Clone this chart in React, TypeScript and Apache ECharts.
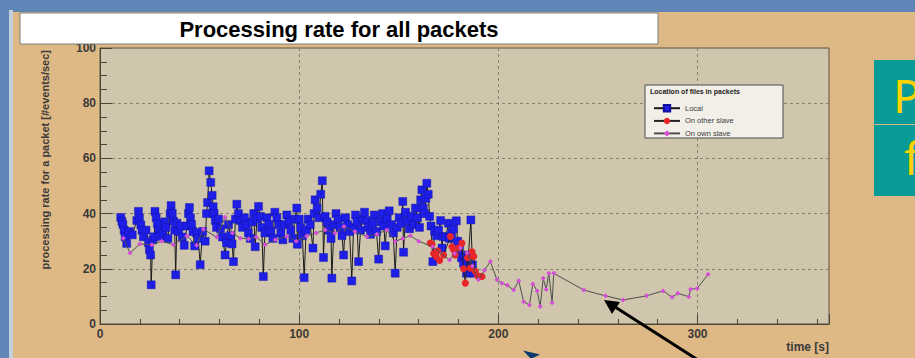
import React, { useEffect, useRef } from 'react';
import * as echarts from 'echarts';

// ---- data (time [s], rate [#events/sec]) ----
const localData: number[][] = [
  [10.4,38.6],[11.0,37.2],[11.5,36.1],[12.1,34.0],[12.6,31.6],[13.4,29.2],[14.8,33.5],[16.2,32.3],[18.5,37.5],[19.3,40.8],
  [19.8,38.3],[20.5,35.9],[21.1,34.0],[21.8,31.6],[23.1,34.0],[24.3,29.5],[24.8,26.9],[25.4,25.0],[25.7,14.2],[26.5,30.5],
  [27.3,31.6],[27.6,40.8],[28.2,38.5],[28.8,36.3],[29.5,34.0],[30.3,31.8],[31.5,33.0],[32.5,37.0],[33.0,35.0],[34.1,31.0],
  [35.2,40.0],[35.7,42.9],[36.3,40.0],[36.9,37.2],[37.5,34.0],[38.0,17.8],[38.6,36.5],[39.5,33.5],[40.5,35.5],[41.3,31.5],
  [42.3,28.5],[43.7,35.5],[44.4,40.0],[44.9,42.2],[45.4,38.5],[46.0,36.0],[46.7,33.5],[47.5,28.3],[48.5,33.0],[49.3,31.0],
  [50.3,21.5],[51.5,33.5],[52.8,30.0],[53.5,40.0],[54.0,44.0],[54.8,55.5],[55.6,51.3],[56.3,46.6],[56.8,42.5],[57.3,40.0],
  [57.9,37.5],[58.5,35.0],[59.5,38.0],[60.5,34.5],[61.5,31.5],[62.8,25.0],[63.5,29.4],[64.5,36.0],[65.5,32.0],[66.3,29.0],
  [67.0,22.6],[68.0,38.0],[68.7,43.4],[69.5,40.0],[70.5,37.5],[71.5,35.0],[72.5,38.5],[73.5,36.0],[74.5,33.0],[75.5,31.0],
  [76.5,37.0],[77.2,40.0],[77.9,28.0],[78.8,38.0],[79.6,42.6],[80.5,39.0],[81.2,35.0],[82.0,17.2],[82.8,33.0],[83.8,38.5],
  [84.8,36.0],[85.8,33.5],[86.8,31.0],[87.8,40.5],[88.8,38.5],[89.8,36.0],[90.8,33.0],[91.8,30.5],[92.8,36.0],[93.8,39.5],
  [94.8,37.0],[95.8,34.0],[96.8,31.0],[97.8,38.0],[98.8,42.0],[99.1,28.9],[100.0,38.0],[100.8,35.0],[101.6,32.0],[102.5,16.8],
  [103.5,34.0],[104.5,38.0],[105.5,36.0],[106.9,27.5],[107.5,40.0],[108.0,45.0],[109.0,42.0],[110.0,38.5],[110.8,47.0],[111.6,51.9],
  [112.2,24.1],[113.0,39.0],[114.0,37.0],[115.0,34.0],[116.0,31.0],[116.4,16.6],[117.5,36.0],[118.5,40.0],[119.5,38.0],[120.5,35.0],
  [121.5,32.0],[122.3,25.0],[123.3,38.5],[124.3,36.0],[125.3,33.5],[126.4,15.6],[127.3,35.0],[128.3,39.5],[129.0,37.0],[129.8,22.6],
  [130.8,34.0],[131.8,38.0],[132.8,40.5],[133.8,37.5],[134.8,35.0],[135.8,32.5],[136.8,36.5],[137.8,39.5],[138.8,33.5],[139.9,23.5],
  [140.9,37.0],[141.9,40.0],[142.5,35.5],[143.2,28.3],[144.2,38.0],[145.2,41.0],[146.2,36.0],[147.2,33.0],[148.2,18.4],[149.2,35.0],
  [150.2,38.5],[151.2,36.5],[152.0,44.4],[152.4,26.0],[153.4,40.5],[154.4,37.5],[155.4,34.5],[156.4,39.0],[157.4,36.0],[158.4,42.0],
  [159.4,38.5],[160.4,35.0],[161.0,45.0],[161.6,48.6],[162.3,42.0],[163.0,40.0],[163.6,45.5],[164.1,51.0],[164.8,47.0],[165.5,39.0],
  [166.2,35.5],[167.1,22.6],[168.0,33.5],[169.0,32.0],[170.0,34.0],[171.0,37.5],[171.7,27.5],[172.2,31.7],[173.5,31.5],[175.0,36.5],
  [175.5,31.0],[176.5,33.0],[177.5,34.5],[178.9,37.4],[179.5,30.0],[180.5,27.0],[181.5,24.0],[182.5,22.0],[183.4,24.4],[184.0,18.4],
  [185.0,25.0],[186.2,37.7],[187.0,21.4],[187.6,18.4]
];

const otherSlaveData: number[][] = [
  [165.8,29.3],[166.7,28.9],[167.5,25.5],[168.8,24.4],[169.5,26.5],[170.5,23.0],[172.5,25.0],[175.9,31.7],[176.7,28.0],[177.5,26.9],
  [178.3,25.0],[180.0,27.5],[181.7,29.3],[182.5,20.0],[183.4,14.8],[184.5,24.0],[185.9,20.2],[186.8,26.2],[187.6,24.5],[188.4,19.0],
  [189.5,17.5],[190.9,17.2],[191.8,17.2]
];

const ownSlaveData: number[][] = [
  [11.7,31.1],[15.1,25.7],[20.0,29.0],[26.0,28.7],[31.0,30.0],[36.8,28.7],[43.6,31.9],[48.5,28.5],[51.9,34.3],[58.6,31.5],
  [62.8,38.7],[66.5,33.0],[70.4,31.1],[74.6,30.8],[78.5,31.5],[82.9,28.7],[88.0,30.5],[93.8,31.7],[98.5,30.0],[103.8,31.9],
  [108.5,33.0],[113.0,34.1],[118.0,33.0],[122.5,35.3],[128.0,33.5],[134.0,31.7],[139.0,32.5],[144.0,34.1],[148.2,29.9],[152.0,31.0],
  [155.8,32.0],[160.0,30.0],[167.0,28.0],[175.5,23.2],[178.0,25.5],[181.0,27.5],[184.3,25.7],[187.0,21.0],[190.0,16.0],[193.0,19.5],
  [196.0,22.6],[199.3,16.0],[201.8,14.8],[204.5,14.0],[207.7,12.3],[210.2,15.7],[212.7,8.1],[215.6,6.9],[217.3,14.5],[219.5,12.0],
  [221.0,6.3],[222.5,16.6],[224.0,12.5],[225.3,18.4],[227.0,7.7],[227.8,18.4],[242.9,12.3],[253.8,10.2],[262.6,8.7],[274.4,10.2],
  [282.7,12.0],[287.2,9.7],[290.1,11.1],[295.6,9.9],[296.5,12.6],[299.8,12.9],[305.3,18.0]
];

const seriesNames = ['Local', 'On other slave', 'On own slave'];
const titleText = 'Processing rate for all packets';
const legendTitle = 'Location of files in packets';
const yTitle = 'processing rate for a packet [#events/sec]';
const xTitle = 'time [s]';
const X_MAX = 366;

const FONT = '"Liberation Sans", Arial, sans-serif';

export default function App() {
  const ref = useRef<HTMLDivElement>(null);
  useEffect(() => {
    if (!ref.current) return;
    const chart = echarts.init(ref.current, undefined, { renderer: 'svg' });
    const axisColor = '#4a4436';
    const labelStyle = { fontFamily: FONT, fontWeight: 'bold' as const, fontSize: 12, color: '#3a3a3a' };
    chart.setOption({
      animation: false,
      backgroundColor: '#5f86b6',
      grid: {
        left: 100, right: 86, top: 48, bottom: 34,
        show: true, backgroundColor: '#cfc6ad', borderColor: '#5a5343', borderWidth: 1
      },
      xAxis: [
        {
          type: 'value', min: 0, max: X_MAX, interval: 100,
          axisLine: { show: true, onZero: false, lineStyle: { color: axisColor } },
          axisTick: { inside: true, length: 10, lineStyle: { color: axisColor } },
          axisLabel: { ...labelStyle, margin: 4, formatter: (v: number) => (v % 100 === 0 ? String(v) : '') },
          splitLine: { show: true, showMinLine: false, showMaxLine: false, lineStyle: { type: [3, 3], color: '#8a816c' } }
        },
        {
          type: 'value', min: 0, max: X_MAX, interval: 20, position: 'bottom',
          axisLine: { show: false },
          axisTick: { inside: true, length: 5, lineStyle: { color: axisColor } },
          axisLabel: { show: false },
          splitLine: { show: false }
        }
      ],
      yAxis: {
        type: 'value', min: 0, max: 100, interval: 20,
        axisLine: { show: true, onZero: false, lineStyle: { color: axisColor } },
        axisTick: { inside: true, length: 12, lineStyle: { color: axisColor } },
        minorTick: { show: true, splitNumber: 4, length: 7, lineStyle: { color: axisColor } },
        axisLabel: { ...labelStyle, margin: 4 },
        splitLine: { show: true, showMinLine: false, showMaxLine: false, lineStyle: { type: [3, 3], color: '#8a816c' } }
      },
      legend: {
        data: seriesNames,
        orient: 'vertical',
        left: 648, top: 99,
        itemWidth: 26, itemHeight: 8, itemGap: 4.5,
        textStyle: { fontFamily: FONT, fontSize: 7.5, color: '#3a3a3a' },
        z: 6
      },
      series: [
        {
          name: seriesNames[0], type: 'line', xAxisIndex: 0, data: localData,
          symbol: 'rect', symbolSize: 8,
          itemStyle: { color: '#1e1ee6', borderColor: '#10109a', borderWidth: 0.4 },
          lineStyle: { color: '#1a1a1a', width: 1 }, z: 2
        },
        {
          name: seriesNames[1], type: 'line', xAxisIndex: 0, data: otherSlaveData,
          symbol: 'circle', symbolSize: 7,
          itemStyle: { color: '#e8262a' },
          lineStyle: { color: '#222', width: 1 }, z: 3
        },
        {
          name: seriesNames[2], type: 'line', xAxisIndex: 0, data: ownSlaveData,
          symbol: 'diamond', symbolSize: 5,
          itemStyle: { color: '#d54ed6' },
          lineStyle: { color: '#4f4f4f', width: 1 }, z: 4
        }
      ],
      graphic: [
        // slide panel
        { type: 'rect', z: -10, shape: { x: 9, y: 10, width: 4, height: 348 }, style: { fill: '#c4d0dc' } },
        { type: 'rect', z: -10, shape: { x: 13, y: 12, width: 902, height: 346 }, style: { fill: '#dfb985' } },
        // title box
        { type: 'rect', z: 1, shape: { x: 20, y: 13, width: 638, height: 31 }, style: { fill: '#ffffff', stroke: '#7d7d7d', lineWidth: 1 } },
        { type: 'text', z: 2, x: 339, y: 29, style: { text: titleText, font: `bold 22px ${FONT}`, fill: '#000', align: 'center', verticalAlign: 'middle' } },
        // axis titles
        { type: 'text', z: 2, x: 45, y: 50, rotation: Math.PI / 2, style: { text: yTitle, font: `bold 11px ${FONT}`, fill: '#3a3a3a', align: 'right', verticalAlign: 'middle' } },
        { type: 'text', z: 2, x: 829, y: 347, style: { text: xTitle, font: `bold 12px ${FONT}`, fill: '#3a3a3a', align: 'right', verticalAlign: 'middle' } },
        // legend box
        { type: 'rect', z: 5, shape: { x: 645, y: 85, width: 138, height: 53 }, style: { fill: '#f2efe8', stroke: '#4a4a4a', lineWidth: 1 } },
        { type: 'text', z: 6, x: 650, y: 91, style: { text: legendTitle, font: `bold 7px ${FONT}`, fill: '#222', align: 'left', verticalAlign: 'middle' } },
        // teal box on the right
        { type: 'rect', z: -9, shape: { x: 874, y: 60, width: 41, height: 136 }, style: { fill: '#089b97' } },
        { type: 'rect', z: -8, shape: { x: 874, y: 124, width: 41, height: 1 }, style: { fill: '#dcb886' } },
        { type: 'text', z: -7, x: 893, y: 118, style: { text: 'P', font: `46px "Noto Sans", "DejaVu Sans", sans-serif`, fill: '#ffd200', align: 'left', verticalAlign: 'bottom' } },
        { type: 'text', z: -7, x: 904, y: 180, style: { text: 'f', font: `46px "Noto Sans", "DejaVu Sans", sans-serif`, fill: '#ffd200', align: 'left', verticalAlign: 'bottom' } },
        // arrows
        { type: 'line', z: 20, shape: { x1: 698, y1: 360, x2: 612, y2: 305 }, style: { stroke: '#000', lineWidth: 3 } },
        { type: 'polygon', z: 20, shape: { points: [[604, 300], [612, 314], [620, 302]] }, style: { fill: '#000' } },
        { type: 'polygon', z: 20, shape: { points: [[523, 350.5], [540, 354.5], [531, 359]] }, style: { fill: '#0d3c6e' } }
      ]
    });
    return () => chart.dispose();
  }, []);
  return <div ref={ref} style={{ position: 'fixed', left: 0, top: 0, width: 915, height: 358 }} />;
}
